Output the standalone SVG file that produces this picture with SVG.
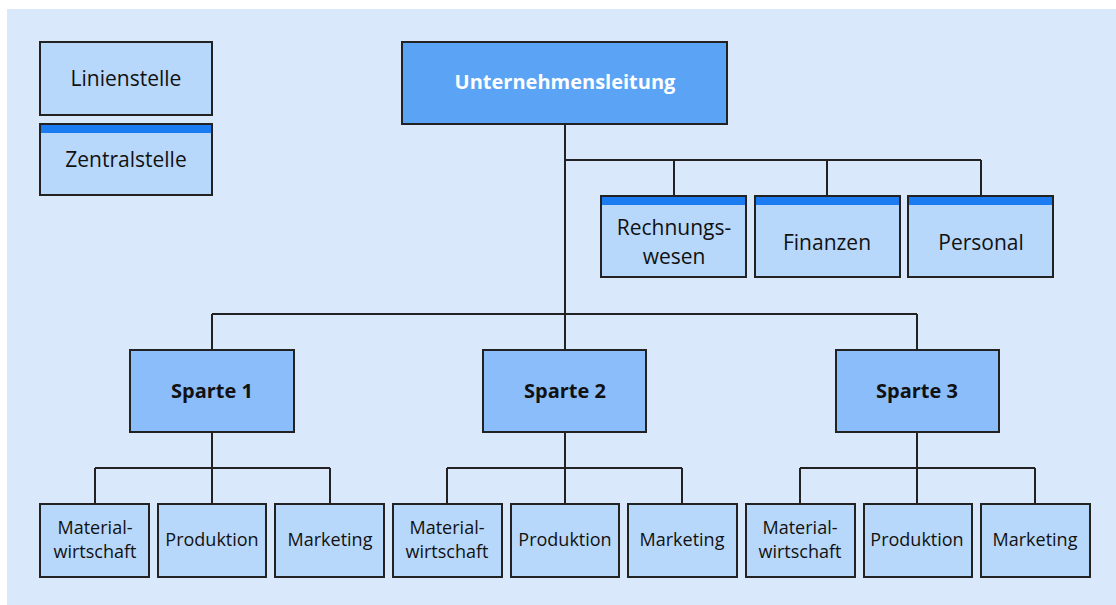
<svg xmlns="http://www.w3.org/2000/svg" width="1116" height="605" viewBox="0 0 1116 605">
<defs>
<style>
.bg{fill:#d9e9fb}
.box{fill:#b8d8fb;stroke:#222;stroke-width:2}
.sp{fill:#8bbdfb;stroke:#222;stroke-width:2}
.top{fill:#5aa3f5;stroke:#222;stroke-width:2}
.band{fill:#1a7cf0}
.t{font-family:"Open Sans","Noto Sans",sans-serif;font-size:18px;fill:#111;text-anchor:middle}
.l{font-size:21px}
.b{font-family:"Open Sans","Noto Sans",sans-serif;font-size:20px;font-weight:bold;fill:#111;text-anchor:middle}
.w{fill:#fff}
.c{fill:none;stroke:#222;stroke-width:2}
</style>
</defs>
<rect x="0" y="0" width="1116" height="605" fill="#fff"/>
<rect class="bg" x="7" y="9" width="1109" height="596"/>
<g id="connectors">
<path class="c" d="M565 124V314"/>
<path class="c" d="M565 160H981M674 160V196M827 160V196M981 160V196"/>
<path class="c" d="M212 314H917M212 314V350M917 314V350M565 314V350"/>
<path class="c" d="M212 432V504M95 468H330M95 468V504M330 468V504"/>
<path class="c" d="M565 432V504M447 468H682M447 468V504M682 468V504"/>
<path class="c" d="M917 432V504M800 468H1035M800 468V504M1035 468V504"/>
</g>
<g id="legend-linienstelle"><rect class="box" x="40" y="42" width="172" height="73"/><text class="t l" x="126" y="86">Linienstelle</text></g>
<g id="legend-zentralstelle"><rect class="box" x="40" y="124" width="172" height="71"/><rect class="band" x="41" y="125" width="170" height="8"/><text class="t l" x="126" y="167">Zentralstelle</text></g>
<g id="unternehmensleitung"><rect class="top" x="402" y="42" width="325" height="82"/><text class="b w" x="565" y="89">Unternehmensleitung</text></g>
<g id="rechnungswesen"><rect class="box" x="601" y="196" width="145" height="81"/><rect class="band" x="602" y="197" width="143" height="8"/><text class="t l" x="674" y="235">Rechnungs-</text><text class="t l" x="674" y="264">wesen</text></g>
<g id="finanzen"><rect class="box" x="755" y="196" width="145" height="81"/><rect class="band" x="756" y="197" width="143" height="8"/><text class="t l" x="827" y="250">Finanzen</text></g>
<g id="personal"><rect class="box" x="908" y="196" width="145" height="81"/><rect class="band" x="909" y="197" width="143" height="8"/><text class="t l" x="981" y="250">Personal</text></g>
<g id="sparte1"><rect class="sp" x="130" y="350" width="164" height="82"/><text class="b" x="212" y="398">Sparte 1</text></g>
<g id="sparte2"><rect class="sp" x="483" y="350" width="163" height="82"/><text class="b" x="565" y="398">Sparte 2</text></g>
<g id="sparte3"><rect class="sp" x="836" y="350" width="163" height="82"/><text class="b" x="917" y="398">Sparte 3</text></g>
<g id="s1-material"><rect class="box" x="40" y="504" width="109" height="73"/><text class="t" x="95" y="534">Material-</text><text class="t" x="95" y="558">wirtschaft</text></g>
<g id="s1-produktion"><rect class="box" x="158" y="504" width="108" height="73"/><text class="t" x="212" y="546">Produktion</text></g>
<g id="s1-marketing"><rect class="box" x="275" y="504" width="109" height="73"/><text class="t" x="330" y="546">Marketing</text></g>
<g id="s2-material"><rect class="box" x="393" y="504" width="109" height="73"/><text class="t" x="447" y="534">Material-</text><text class="t" x="447" y="558">wirtschaft</text></g>
<g id="s2-produktion"><rect class="box" x="511" y="504" width="108" height="73"/><text class="t" x="565" y="546">Produktion</text></g>
<g id="s2-marketing"><rect class="box" x="628" y="504" width="109" height="73"/><text class="t" x="682" y="546">Marketing</text></g>
<g id="s3-material"><rect class="box" x="746" y="504" width="109" height="73"/><text class="t" x="800" y="534">Material-</text><text class="t" x="800" y="558">wirtschaft</text></g>
<g id="s3-produktion"><rect class="box" x="864" y="504" width="108" height="73"/><text class="t" x="917" y="546">Produktion</text></g>
<g id="s3-marketing"><rect class="box" x="981" y="504" width="109" height="73"/><text class="t" x="1035" y="546">Marketing</text></g>
</svg>
